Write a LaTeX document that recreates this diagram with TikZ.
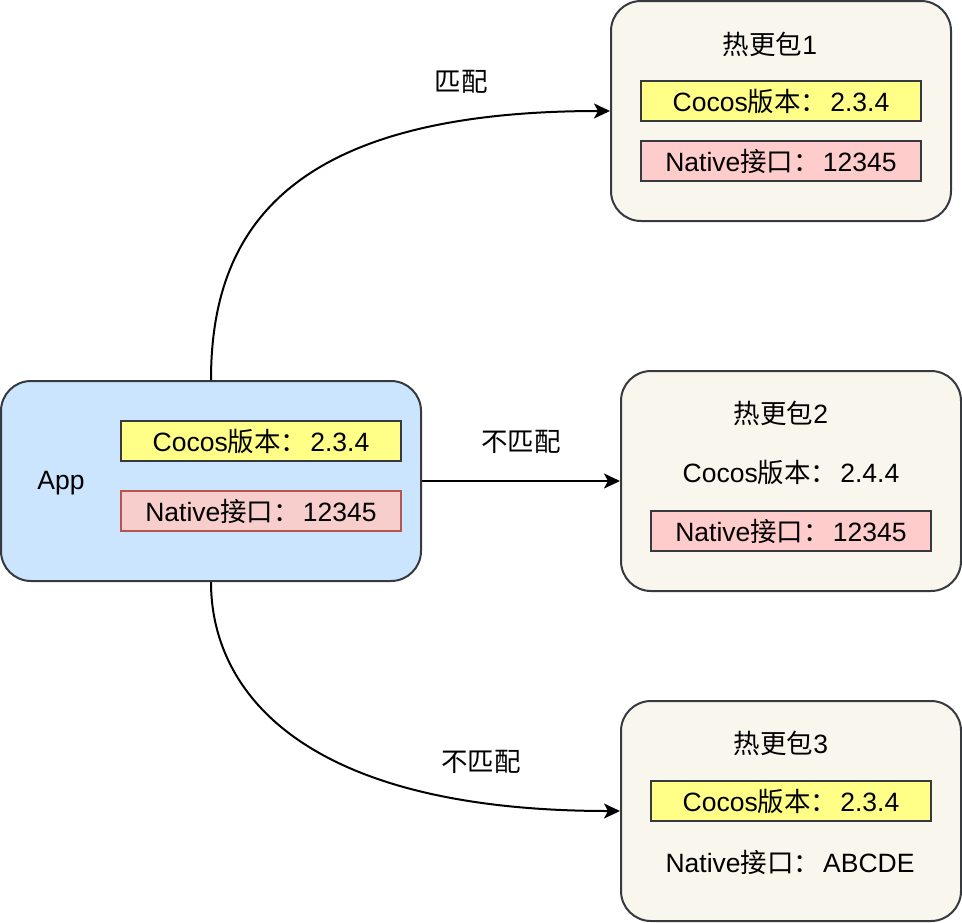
\documentclass[tikz,border=0pt]{standalone}
\usepackage{fontspec}
\setmainfont{Liberation Sans}
\newfontfamily\cjk{Noto Sans CJK SC}
\usetikzlibrary{arrows.meta}
\definecolor{strokegray}{HTML}{36393D}
\definecolor{appfill}{HTML}{CCE5FF}
\definecolor{pkgfill}{HTML}{F9F7ED}
\definecolor{yellowfill}{HTML}{FFFF88}
\definecolor{redfill}{HTML}{F8CECC}
\definecolor{redstroke}{HTML}{B85450}
\definecolor{pinkfill}{HTML}{FFCCCC}
\newcommand{\cjkcolon}{{\cjk ：}\hspace{3pt}}
\tikzset{
  txt/.style={font=\fontsize{26.5}{30}\selectfont, text=black, inner sep=0pt},
  bigbox/.style={draw=strokegray, line width=2pt, rounded corners=30pt, minimum width=420pt, minimum height=200pt, inner sep=0pt},
  pkgbox/.style={draw=strokegray, fill=pkgfill, line width=2pt, rounded corners=30pt, minimum width=340pt, minimum height=220pt, inner sep=0pt},
  tagbox/.style={txt, line width=2pt, minimum width=280pt, minimum height=40pt},
  ytag/.style={tagbox, draw=strokegray, fill=yellowfill},
  rtag/.style={tagbox, draw=redstroke, fill=redfill},
  ptag/.style={tagbox, draw=strokegray, fill=pinkfill},
  conn/.style={draw=black, line width=2pt, -{Stealth[length=16pt, width=15pt, inset=4pt]}},
}
\begin{document}
\begin{tikzpicture}[x=1pt, y=-1pt]
\useasboundingbox (0,0) rectangle (962,922);
% App
\node[bigbox, fill=appfill] (app) at (211,481) {};
\node[txt] (apptxt) at (61,483) {App};
\node[ytag] (appcocos) at (261,441) {Cocos{\cjk 版本}\cjkcolon2.3.4\hspace{16pt}};
\node[rtag] (appnative) at (261,511) {Native{\cjk 接口}\cjkcolon12345};
% package 1
\node[pkgbox] (p1) at (781,111) {};
\node[txt] (p1title) at (770,44) {{\cjk 热更包}1};
\node[ytag] (p1cocos) at (781,101) {Cocos{\cjk 版本}\cjkcolon2.3.4\hspace{16pt}};
\node[ptag] (p1native) at (781,161) {Native{\cjk 接口}\cjkcolon12345};
% package 2
\node[pkgbox] (p2) at (791,481) {};
\node[txt] (p2title) at (781,413) {{\cjk 热更包}2};
\node[txt] (p2cocos) at (791,472) {Cocos{\cjk 版本}\cjkcolon2.4.4};
\node[ptag] (p2native) at (791,531) {Native{\cjk 接口}\cjkcolon12345};
% package 3
\node[pkgbox] (p3) at (791,811) {};
\node[txt] (p3title) at (781,743) {{\cjk 热更包}3};
\node[ytag] (p3cocos) at (791,801) {Cocos{\cjk 版本}\cjkcolon2.3.4\hspace{16pt}};
\node[txt] (p3native) at (790,862) {Native{\cjk 接口}\cjkcolon ABCDE};
% connectors
\draw[conn] (app.north) .. controls (211,230) and (288,111) .. (p1.west);
\draw[conn] (app.east) -- (p2.west);
\draw[conn] (app.south) .. controls (211,690) and (300,811) .. (p3.west);
% labels
\node[txt] (l1) at (461,82) {\cjk 匹配};
\node[txt] (l2) at (521,442) {\cjk 不匹配};
\node[txt] (l3) at (481,762) {\cjk 不匹配};
\end{tikzpicture}
\end{document}
